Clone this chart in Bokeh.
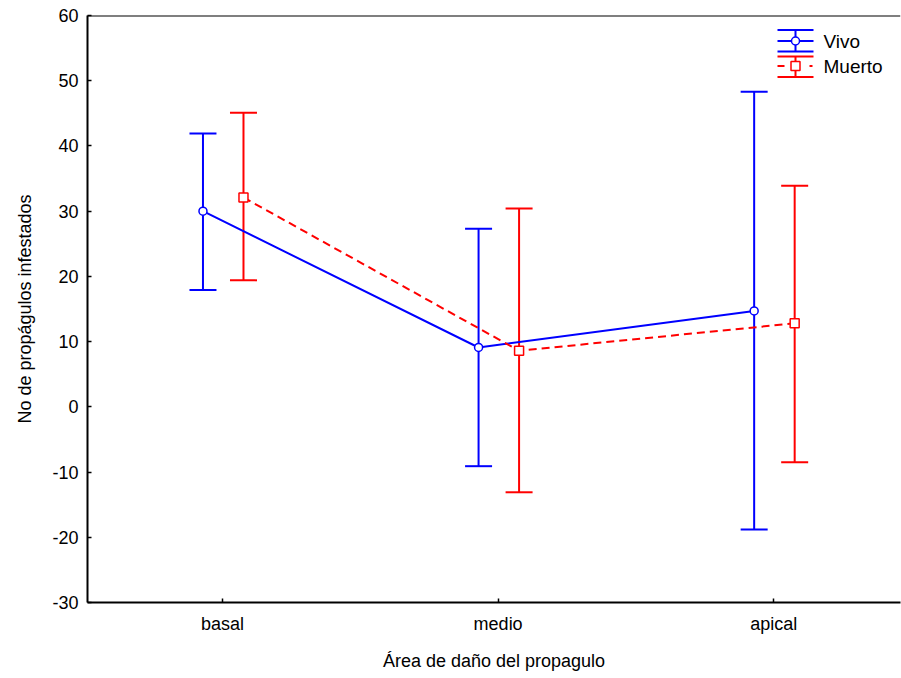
from bokeh.plotting import figure
from bokeh.models import (ColumnDataSource, Whisker, TeeHead, Range1d,
                          FixedTicker, Span, Label)
from bokeh.embed import file_html
from bokeh.resources import INLINE

# Damage area of the propagule (x categories)
areas = ["basal", "medio", "apical"]

# Number of infested propagules: mean and interval limits
vivo_mean = [30.0, 9.1, 14.7]
vivo_lower = [17.9, -9.1, -18.8]
vivo_upper = [41.9, 27.3, 48.3]

muerto_mean = [32.1, 8.6, 12.8]
muerto_lower = [19.4, -13.1, -8.5]
muerto_upper = [45.1, 30.4, 33.9]

y_ticks = [-30, -20, -10, 0, 10, 20, 30, 40, 50, 60]

FONT = "Liberation Sans"
FS = "18px"
BLUE = "#0000FF"
RED = "#FF0000"

W, H = 901, 678
LEFT, RIGHT, TOP, BOTTOM = 87, 1, 15, 76
X0, X1 = 0.51, 3.46
Y0, Y1 = -30, 60

p = figure(width=W, height=H, output_backend="svg", toolbar_location=None,
           x_range=Range1d(X0, X1), y_range=Range1d(Y0, Y1),
           min_border_left=LEFT, min_border_right=RIGHT,
           min_border_top=TOP, min_border_bottom=BOTTOM)
p.outline_line_color = None
p.grid.visible = False
p.background_fill_color = "white"
p.border_fill_color = "white"

# axes
for ax in (p.xaxis[0], p.yaxis[0]):
    ax.axis_line_color = "black"
    ax.axis_line_width = 2
    ax.major_tick_in = 4
    ax.major_tick_out = 0
    ax.major_tick_line_width = 1.5
    ax.minor_tick_line_color = None
    ax.major_label_text_font = FONT
    ax.major_label_text_font_size = FS
    ax.major_label_text_color = "black"
    ax.axis_label_text_font = FONT
    ax.axis_label_text_font_size = FS
    ax.axis_label_text_font_style = "normal"
    ax.axis_label_text_color = "black"

p.yaxis.ticker = FixedTicker(ticks=y_ticks)
p.yaxis.major_label_overrides = {t: str(t) for t in y_ticks}
p.yaxis.major_label_standoff = 9
p.yaxis.axis_label = "No de propágulos infestados"
p.yaxis.axis_label_standoff = 14

x_pos = [1, 2, 3]
p.xaxis.ticker = FixedTicker(ticks=x_pos)
p.xaxis.major_label_overrides = {i + 1: a for i, a in enumerate(areas)}
p.xaxis.major_label_standoff = 11
p.xaxis.axis_label = "Área de daño del propagulo"
p.xaxis.axis_label_standoff = 14

# top frame line
p.add_layout(Span(location=Y1, dimension="width", line_color="black", line_width=2))

# horizontal dodge of the two series around each category
vivo_x = [x - 0.071 for x in x_pos]
muerto_x = [x + 0.076 for x in x_pos]

src_v = ColumnDataSource(dict(x=vivo_x, y=vivo_mean, lo=vivo_lower, hi=vivo_upper))
src_m = ColumnDataSource(dict(x=muerto_x, y=muerto_mean, lo=muerto_lower, hi=muerto_upper))

for src, col in ((src_v, BLUE), (src_m, RED)):
    wk = Whisker(source=src, base="x", lower="lo", upper="hi", dimension="height",
                 line_color=col, line_width=2,
                 upper_head=TeeHead(size=27, line_color=col, line_width=2),
                 lower_head=TeeHead(size=27, line_color=col, line_width=2))
    p.add_layout(wk)

p.line("x", "y", source=src_v, line_color=BLUE, line_width=2)
p.line("x", "y", source=src_m, line_color=RED, line_width=2, line_dash="8 5")
p.scatter("x", "y", source=src_v, marker="circle", size=8, fill_color="white",
          line_color=BLUE, line_width=1.5)
p.scatter("x", "y", source=src_m, marker="square", size=9, fill_color="white",
          line_color=RED, line_width=1.5)

# legend drawn in the upper right corner (pixel offsets converted to data units)
frame_w = W - LEFT - RIGHT
frame_h = H - TOP - BOTTOM


def dx(px):
    return X0 + (px - LEFT) * (X1 - X0) / frame_w


def dy(py):
    return Y1 - (py - TOP) * (Y1 - Y0) / frame_h


gx0, gx1, gxc = dx(777), dx(813), dx(795)

# Vivo entry
vc, vt, vb = dy(40.5), dy(29.5), dy(51)
p.segment(x0=[gx0, gx0, gx0, gxc], y0=[vt, vc, vb, vt],
          x1=[gx1, gx1, gx1, gxc], y1=[vt, vc, vb, vb],
          line_color=BLUE, line_width=2)
p.scatter(x=[gxc], y=[vc], marker="circle", size=8, fill_color="white",
          line_color=BLUE, line_width=1.5)
p.add_layout(Label(x=dx(823), y=vc, text="Vivo", text_font=FONT,
                   text_font_size="19px", text_baseline="middle", text_color="black"))

# Muerto entry
mc, mt, mb = dy(65.5), dy(56), dy(76.5)
p.segment(x0=[gx0, gx0, gxc, gx0, dx(809)], y0=[mt, mb, mt, mc, mc],
          x1=[gx1, gx1, gxc, dx(784), dx(812)], y1=[mt, mb, mb, mc, mc],
          line_color=RED, line_width=2)
p.scatter(x=[gxc], y=[mc], marker="square", size=9, fill_color="white",
          line_color=RED, line_width=1.5)
p.add_layout(Label(x=dx(823), y=mc, text="Muerto", text_font=FONT,
                   text_font_size="19px", text_baseline="middle", text_color="black"))

open("out.html", "w").write(file_html(p, INLINE))
